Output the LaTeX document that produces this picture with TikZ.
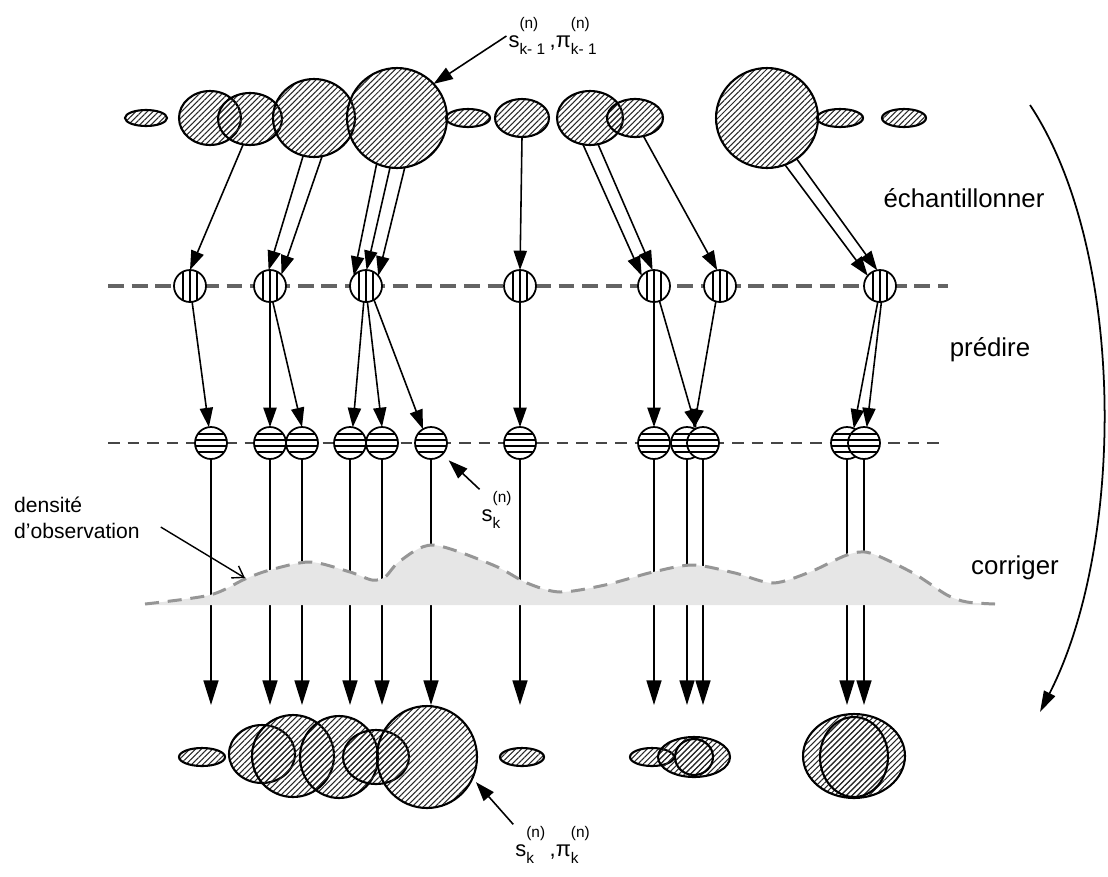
\documentclass[tikz,border=0pt]{standalone}
\usepackage{fontspec}
\setmainfont{Liberation Sans}
\usepackage{amsmath}
\usepackage{tikz}
\usetikzlibrary{positioning, arrows.meta, shapes.geometric, patterns.meta}
\newcommand{\sidefont}{\fontsize{14.7pt}{17pt}\selectfont}
\newcommand{\notefont}{\fontsize{12pt}{15pt}\selectfont}
\newcommand{\symfont}  {\fontsize{12.5pt}{14pt}\selectfont}
% particle with weight: s, then (n) above and index below
\newcommand{\wt}[2]{#1${}^{\text{\raisebox{6.5pt}{(n)}}}_{\text{#2}}$}
\definecolor{rowgray}  {RGB}{100, 100, 100}
\definecolor{rowdark}  {RGB}{70, 70, 70}
\definecolor{densline} {RGB}{150, 150, 150}
\definecolor{densfill} {RGB}{230, 230, 230}
\definecolor{hatchgray}{RGB}{40, 40, 40}
\tikzset{
  % weighted sample set (hatched blob)
  weight/.style={
    ellipse, draw, line width=1.2pt, inner sep=0pt, outer sep=0pt,
    pattern={Lines[angle=45, distance=2.3pt, line width=0.6pt]},
    pattern color=hatchgray
  },
  rad/.style 2 args={minimum width=#1*0.04cm, minimum height=#2*0.04cm},
  % sampled particle (vertical stripes)
  pdraw/.style={
    circle, draw, line width=1pt, fill=white, inner sep=0pt, outer sep=0pt,
    minimum size=0.64cm,
    path picture={\foreach \dx in {-0.14,0,0.14}
      \draw[line width=0.7pt] ([xshift=\dx cm]path picture bounding box.north)
        -- ([xshift=\dx cm]path picture bounding box.south);}
  },
  % predicted particle (horizontal stripes)
  ppred/.style={
    circle, draw, line width=1pt, fill=white, inner sep=0pt, outer sep=0pt,
    minimum size=0.64cm,
    path picture={\foreach \dy in {-0.18,-0.06,0.06,0.18}
      \draw[line width=0.7pt] ([yshift=\dy cm]path picture bounding box.west)
        -- ([yshift=\dy cm]path picture bounding box.east);}
  },
  % arrow styles
  arr/.style={-{Triangle[length=11pt, width=7.5pt]}, line width=0.9pt},
  arrlong/.style={-{Triangle[length=14pt, width=8.5pt]}, line width=0.9pt},
  barb/.style={-{Straight Barb[length=6pt, width=8pt]}, line width=0.8pt},
  cyc/.style={-{Triangle[length=12pt, width=7pt]}, line width=1pt},
  % dashed levels
  row1/.style={draw=rowgray, line width=1.8pt, dash pattern=on 9pt off 4.5pt},
  row2/.style={draw=rowdark, line width=1.1pt, dash pattern=on 6.6pt off 4.5pt},
  dens/.style={draw=densline, line width=1.7pt, dash pattern=on 8pt off 5pt},
  sidelab/.style={font=\sidefont},
  notelab/.style={font=\notefont, align=left},
  symlab/.style={font=\symfont, inner sep=1pt},
}

\begin{document}
\begin{tikzpicture}[x=0.02cm, y=-0.02cm]
  \useasboundingbox (0,0) rectangle (1108,876);

  % dashed levels
  \coordinate (r1a) at (108,286);
  \coordinate (r1b) at (948,286);
  \coordinate (r2a) at (108,443);
  \coordinate (r2b) at (946,443);
  \draw[row1] (r1a) -- (r1b);
  \draw[row2] (r2a) -- (r2b);

  % weighted set at k-1
  \node[weight, rad={21}{8}]  (t1)  at (146,118) {};
  \node[weight, rad={31}{27}] (t2)  at (210,118) {};
  \node[weight, rad={32}{26}] (t3)  at (250,119) {};
  \node[weight, rad={41}{39}] (t4)  at (314,118) {};
  \node[weight, rad={50}{50}] (t5)  at (397,118) {};
  \node[weight, rad={22}{9}]  (t6)  at (468,118) {};
  \node[weight, rad={27}{19}] (t7)  at (522,118) {};
  \node[weight, rad={33}{27}] (t8)  at (590,118) {};
  \node[weight, rad={28}{19}] (t9)  at (635,118) {};
  \node[weight, rad={51}{50}] (t10) at (767,118) {};
  \node[weight, rad={23}{9}]  (t11) at (840,118) {};
  \node[weight, rad={22}{9}]  (t12) at (904,118) {};

  % sampled particles
  \node[pdraw] (p1) at (190,286) {};
  \node[pdraw] (p2) at (270,286) {};
  \node[pdraw] (p3) at (366,286) {};
  \node[pdraw] (p4) at (520,286) {};
  \node[pdraw] (p5) at (654,286) {};
  \node[pdraw] (p6) at (720,286) {};
  \node[pdraw] (p7) at (880,286) {};

  % predicted particles
  \node[ppred] (q1)  at (211,443) {};
  \node[ppred] (q2)  at (270,443) {};
  \node[ppred] (q3)  at (302,443) {};
  \node[ppred] (q4)  at (350,443) {};
  \node[ppred] (q5)  at (382,443) {};
  \node[ppred] (q6)  at (431,443) {};
  \node[ppred] (q7)  at (520,443) {};
  \node[ppred] (q8)  at (654,443) {};
  \node[ppred] (q9)  at (687,443) {};
  \node[ppred] (q10) at (703,443) {};
  \node[ppred] (q11) at (847,443) {};
  \node[ppred] (q12) at (864,443) {};

  % sample
  \draw[arr] (t3.255)  -- (p1.north);
  \draw[arr] (t4.254)  -- (p2.95);
  \draw[arr] (t4.282)  -- (p2.45);
  \draw[arr] (t5.246)  -- (p3.140);
  \draw[arr] (t5.262)  -- (p3.88);
  \draw[arr] (t5.279)  -- (p3.40);
  \draw[arr] (t7.south) -- (p4.north);
  \draw[arr] (t8.255)  -- (p5.140);
  \draw[arr] (t8.287)  -- (p5.95);
  \draw[arr] (t9.295)  -- (p6.100);
  \draw[arr] (t10.291) -- (p7.140);
  \draw[arr] (t10.306) -- (p7.100);

  % predict
  \draw[arr] (p1) -- (q1);
  \draw[arr] (p2.south) -- (q2.north);
  \draw[arr] (p2.280) -- (q3.north);
  \draw[arr] (p3.262) -- (q4.80);
  \draw[arr] (p3.275) -- (q5.north);
  \draw[arr] (p3.300) -- (q6.120);
  \draw[arr] (p4.south) -- (q7.north);
  \draw[arr] (p5.south) -- (q8.north);
  \draw[arr] (p5.290) -- (q10.115);
  \draw[arr] (p6.255) -- (q9.65);
  \draw[arr] (p7.262) -- (q11.65);
  \draw[arr] (p7.275) -- (q12.80);

  % correct
  \coordinate (b1)  at (211,705);
  \coordinate (b2)  at (270,705);
  \coordinate (b3)  at (302,705);
  \coordinate (b4)  at (350,705);
  \coordinate (b5)  at (382,705);
  \coordinate (b6)  at (431,705);
  \coordinate (b7)  at (520,705);
  \coordinate (b8)  at (654,705);
  \coordinate (b9)  at (687,705);
  \coordinate (b10) at (703,705);
  \coordinate (b11) at (847,705);
  \coordinate (b12) at (864,705);
  \draw[arrlong] (q1.south)  -- (b1);
  \draw[arrlong] (q2.south)  -- (b2);
  \draw[arrlong] (q3.south)  -- (b3);
  \draw[arrlong] (q4.south)  -- (b4);
  \draw[arrlong] (q5.south)  -- (b5);
  \draw[arrlong] (q6.south)  -- (b6);
  \draw[arrlong] (q7.south)  -- (b7);
  \draw[arrlong] (q8.south)  -- (b8);
  \draw[arrlong] (q9.south)  -- (b9);
  \draw[arrlong] (q10.south) -- (b10);
  \draw[arrlong] (q11.south) -- (b11);
  \draw[arrlong] (q12.south) -- (b12);

  % observation density
  \fill[densfill] (145,605) -- plot[smooth] coordinates {(145,604) (210,595)
    (245,579) (270,570) (310,562) (350,572) (372,580) (385,577) (400,561)
    (433,545) (493,565) (527,583) (560,592) (605,585) (653,572) (693,565)
    (735,573) (773,583) (810,572) (847,555) (870,553) (913,573) (947,595)
    (967,602) (995,604)} -- (995,605) -- cycle;
  \draw[dens] plot[smooth] coordinates {(145,604) (210,595)
    (245,579) (270,570) (310,562) (350,572) (372,580) (385,577) (400,561)
    (433,545) (493,565) (527,583) (560,592) (605,585) (653,572) (693,565)
    (735,573) (773,583) (810,572) (847,555) (870,553) (913,573) (947,595)
    (967,602) (995,604)};

  % weighted set at k
  \node[weight, rad={23}{9}]  (w1)  at (202,757) {};
  \node[weight, rad={33}{29}] (w2)  at (262,754) {};
  \node[weight, rad={41}{41}] (w3)  at (293,756) {};
  \node[weight, rad={39}{41}] (w4)  at (339,757) {};
  \node[weight, rad={33}{27}] (w5)  at (376,757) {};
  \node[weight, rad={50}{51}] (w6)  at (427,757) {};
  \node[weight, rad={22}{9}]  (w7)  at (522,757) {};
  \node[weight, rad={22}{9}]  (w8)  at (652,757) {};
  \node[weight, rad={36}{20}] (w9)  at (694,757) {};
  \node[weight, rad={19}{18}] (w10) at (694,757) {};
  \node[weight, rad={51}{42}] (w11) at (854,756) {};
  \node[weight, rad={34}{40}] (w12) at (854,757) {};

  % labels
  \node[symlab] (lab1) at (553,36)  {\wt{s}{k- 1}\,,\wt{π}{k- 1}};
  \node[symlab] (lab2) at (497,510) {\wt{s}{k}};
  \node[symlab] (lab3) at (553,845) {\wt{s}{k}\,,\wt{π}{k}};
  \draw[arr] (lab1.west) -- (t5.43);
  \draw[arr, shorten >=5pt] (lab2.north west) -- (q6.south east);
  \draw[arr, shorten >=3pt] (lab3.north west) -- (w6.-25);

  \node[notelab, anchor=west] (dens) at (8,518) {densité\\d'observation};
  \coordinate (dtip) at (245,578);
  \draw[barb, shorten <=0.35cm] (dens.east) -- (dtip);

  \node[sidelab] (s1) at (964,198) {échantillonner};
  \node[sidelab] (s2) at (990,350) {prédire};
  \node[sidelab] (s3) at (1015,568) {corriger};

  % loop
  \coordinate (cyc0) at (1030,105);
  \coordinate (cyc1) at (1040,712);
  \draw[cyc] (cyc0) .. controls (1126,250) and (1126,544) .. (cyc1);
\end{tikzpicture}
\end{document}
